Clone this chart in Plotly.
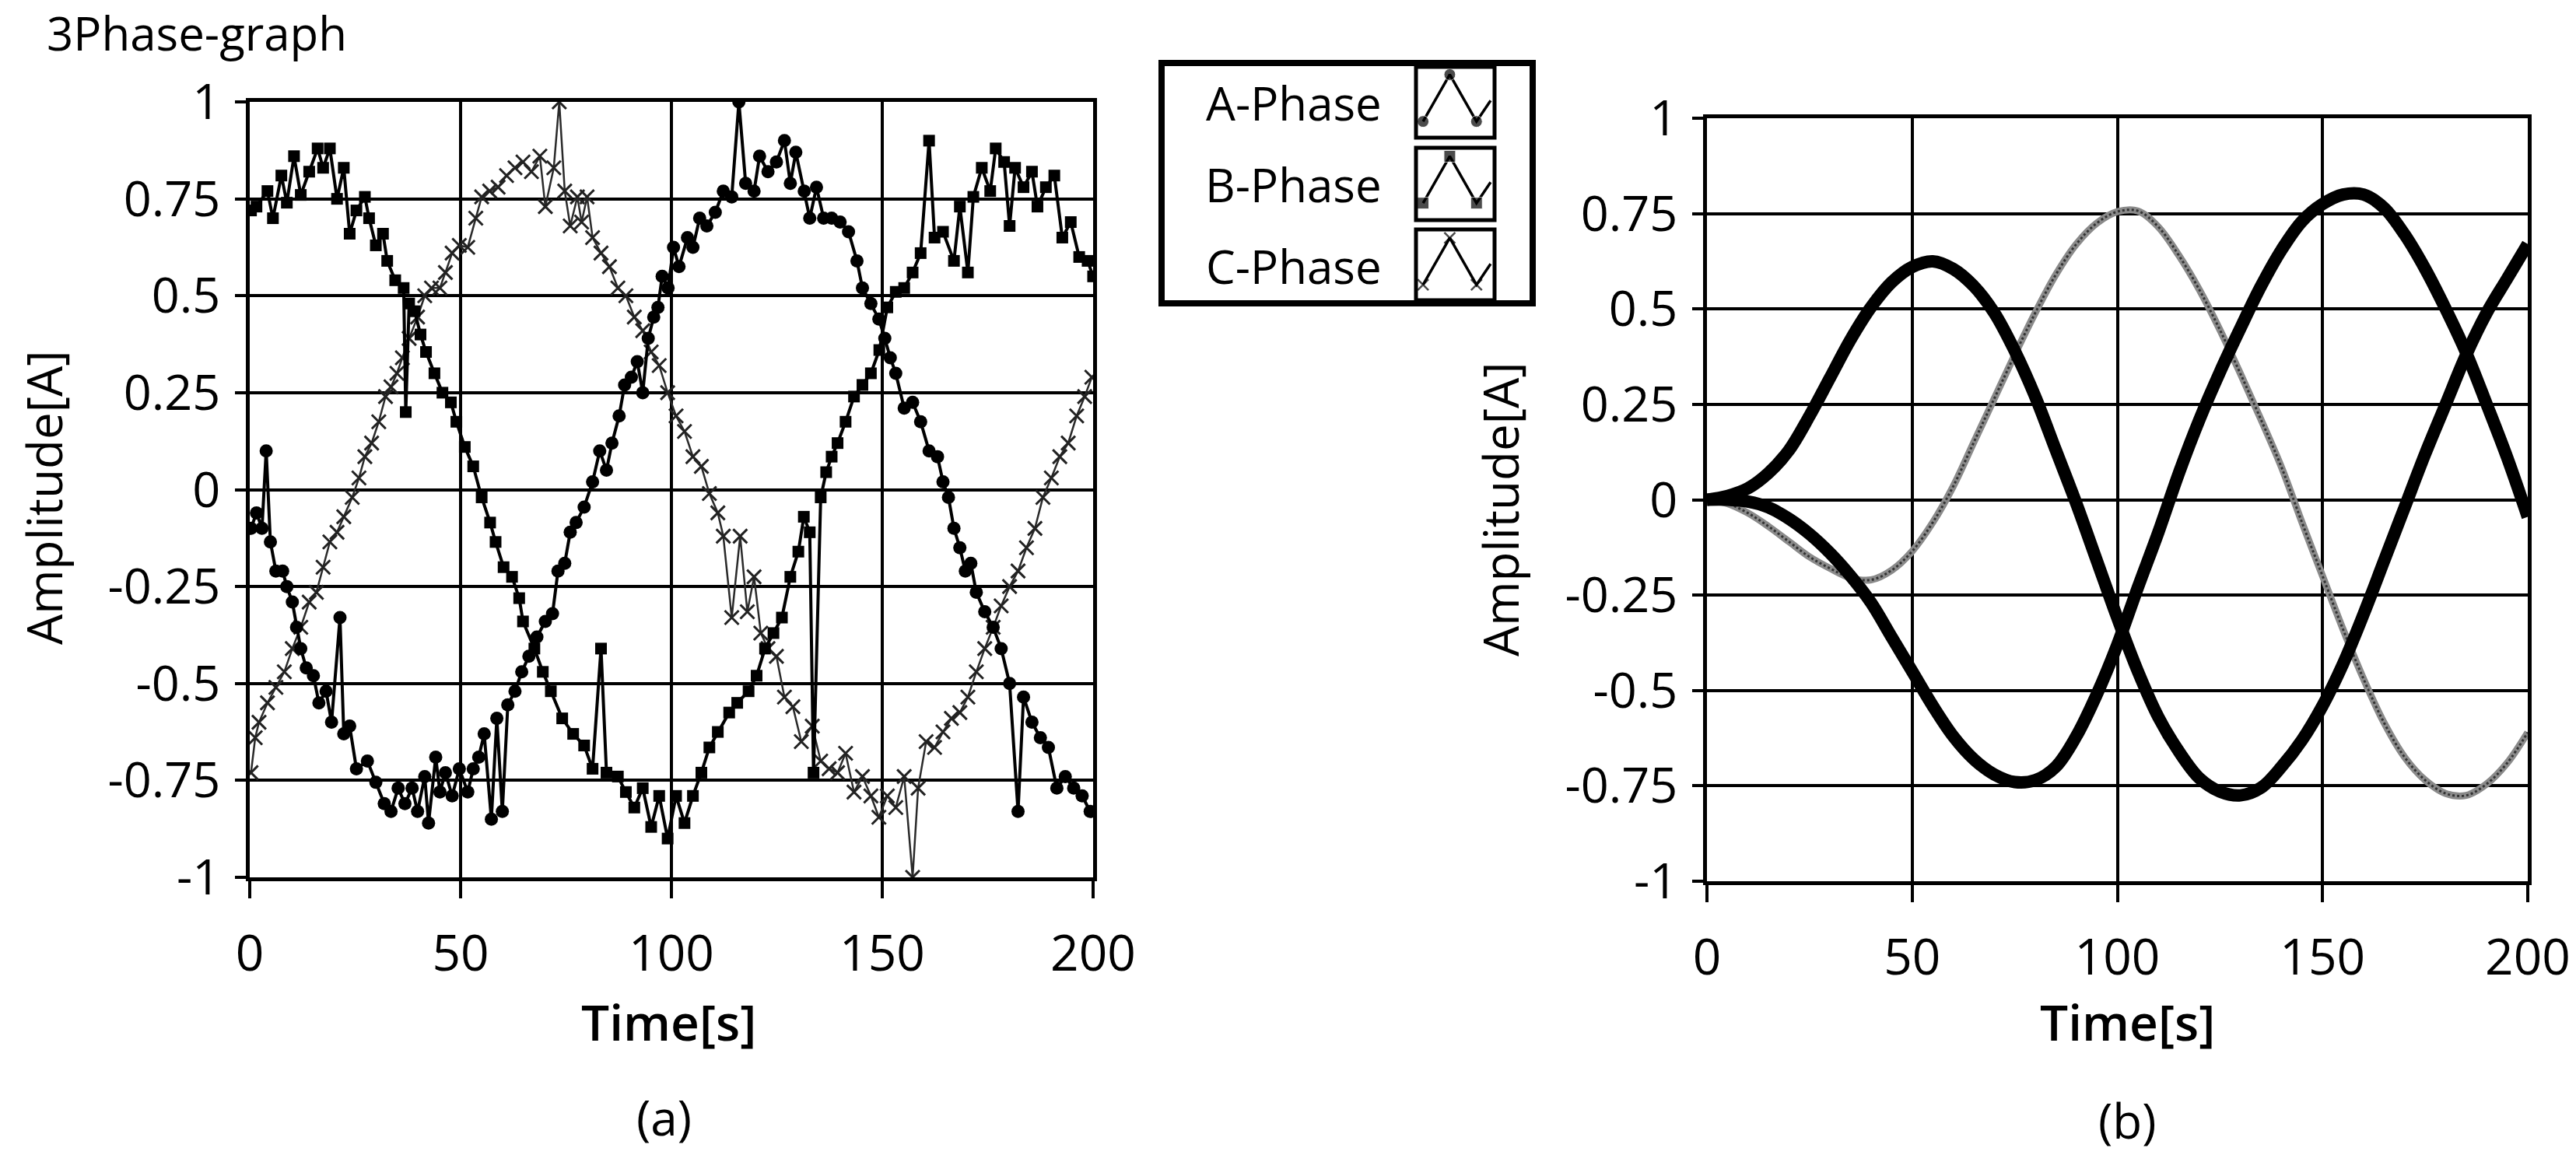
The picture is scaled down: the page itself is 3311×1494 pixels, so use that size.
import plotly.graph_objects as go

W, H = 3311, 1494
FONT = "Open Sans"

# ---------------- (a) measured, noisy 3-phase currents ----------------
A_T = [0.3, 1.6, 2.9, 3.9, 4.9, 6.2, 7.8, 8.8, 10.1, 11.1, 12.1, 13.4, 15.1, 16.4, 18.1, 19.4, 21.4, 22.3,
       23.7, 25.3, 27.9, 29.9, 31.9, 33.5, 35.2, 36.8, 38.5, 39.8, 41.5, 42.4, 44.1, 45.1, 46.4, 48.0, 49.7,
       51.7, 53.0, 54.3, 55.6, 57.3, 58.6, 59.9, 61.2, 62.9, 64.5, 66.2, 68.1, 70.1, 71.8, 73.1, 74.7, 76.0,
       77.4, 79.3, 81.3, 83.0, 84.6, 85.9, 87.6, 88.9, 90.5, 91.9, 93.2, 94.5, 95.8, 96.8, 97.8, 99.2, 100.5,
       101.8, 103.8, 105.1, 106.7, 108.4, 110.4, 112.3, 114.3, 116.0, 117.6, 119.6, 120.9, 122.9, 124.9, 126.8,
       128.2, 129.5, 131.5, 132.8, 134.4, 136.1, 138.0, 140.0, 142.0, 144.0, 145.3, 147.3, 149.2, 150.6, 151.9,
       153.2, 155.2, 157.2, 159.1, 161.1, 163.1, 164.4, 165.7, 167.0, 168.4, 169.7, 171.0, 172.3, 174.3, 176.3,
       178.2, 180.2, 182.2, 183.5, 185.5, 187.5, 189.4, 191.4, 193.4, 195.4, 197.4, 199.3]
A_V = [-0.10, -0.06, -0.10, 0.10, -0.135, -0.21, -0.21, -0.25, -0.29, -0.355, -0.41, -0.46, -0.48, -0.55, -0.52,
       -0.60, -0.33, -0.63, -0.61, -0.72, -0.70, -0.755, -0.81, -0.83, -0.77, -0.81, -0.77, -0.83, -0.74, -0.86,
       -0.69, -0.78, -0.73, -0.79, -0.72, -0.78, -0.72, -0.69, -0.63, -0.85, -0.59, -0.83, -0.555, -0.52, -0.47,
       -0.43, -0.38, -0.34, -0.32, -0.21, -0.19, -0.11, -0.085, -0.045, 0.02, 0.10, 0.05, 0.12, 0.19, 0.27, 0.29,
       0.33, 0.25, 0.39, 0.445, 0.47, 0.55, 0.52, 0.625, 0.575, 0.65, 0.625, 0.70, 0.68, 0.715, 0.77, 0.755, 1.0,
       0.79, 0.77, 0.86, 0.82, 0.845, 0.90, 0.79, 0.87, 0.77, 0.70, 0.78, 0.70, 0.70, 0.69, 0.665, 0.59, 0.52,
       0.48, 0.44, 0.39, 0.34, 0.30, 0.21, 0.225, 0.175, 0.10, 0.085, 0.02, -0.02, -0.10, -0.15, -0.21, -0.19,
       -0.265, -0.315, -0.355, -0.41, -0.50, -0.83, -0.535, -0.60, -0.64, -0.665, -0.77, -0.74, -0.77, -0.79, -0.83]

B_T = [0.3, 1.6, 4.2, 5.5, 7.5, 8.8, 10.5, 12.1, 14.1, 16.1, 17.4, 19.0, 20.7, 22.3, 23.7, 25.3, 27.3, 28.3,
       29.9, 31.6, 32.6, 34.5, 36.5, 37.0, 37.8, 39.1, 40.5, 41.8, 43.8, 45.7, 47.7, 49.0, 51.0, 53.0, 55.0,
       57.0, 58.3, 60.2, 62.2, 63.9, 64.8, 67.5, 69.5, 71.4, 74.1, 76.7, 79.3, 81.3, 83.3, 84.6, 87.3, 89.2,
       91.2, 93.2, 95.2, 97.1, 99.1, 101.1, 103.1, 105.1, 107.1, 109.0, 111.0, 113.7, 115.6, 118.3, 120.2,
       122.2, 124.2, 126.2, 128.2, 130.1, 131.4, 132.8, 133.7, 135.4, 136.7, 138.0, 139.4, 141.3, 143.3, 145.3,
       147.3, 149.3, 151.2, 153.2, 155.2, 157.2, 159.1, 161.1, 162.4, 164.4, 167.0, 168.4, 170.3, 171.6, 173.6,
       175.6, 176.9, 178.9, 180.2, 181.5, 183.5, 185.5, 186.8, 188.8, 190.8, 192.7, 194.7, 196.7, 198.7, 200.0]
B_V = [0.72, 0.73, 0.77, 0.70, 0.81, 0.74, 0.86, 0.76, 0.82, 0.88, 0.83, 0.88, 0.75, 0.83, 0.66, 0.72, 0.755,
       0.70, 0.63, 0.66, 0.59, 0.54, 0.52, 0.20, 0.48, 0.46, 0.40, 0.355, 0.30, 0.25, 0.225, 0.175, 0.11, 0.06,
       -0.02, -0.085, -0.135, -0.20, -0.225, -0.28, -0.34, -0.41, -0.47, -0.52, -0.59, -0.63, -0.66, -0.72,
       -0.41, -0.73, -0.74, -0.78, -0.82, -0.77, -0.87, -0.79, -0.90, -0.79, -0.86, -0.79, -0.73, -0.665,
       -0.625, -0.575, -0.55, -0.52, -0.48, -0.41, -0.37, -0.33, -0.225, -0.16, -0.07, -0.11, -0.73, -0.02,
       0.045, 0.085, 0.12, 0.175, 0.24, 0.27, 0.30, 0.36, 0.47, 0.51, 0.52, 0.56, 0.61, 0.90, 0.65, 0.665,
       0.59, 0.73, 0.56, 0.755, 0.83, 0.77, 0.88, 0.845, 0.68, 0.83, 0.78, 0.82, 0.73, 0.78, 0.81, 0.65, 0.69,
       0.60, 0.59, 0.55]

C_T = [0.3, 1.3, 2.2, 4.2, 6.2, 8.2, 10.1, 12.1, 14.1, 15.8, 17.4, 19.0, 20.7, 22.3, 24.3, 25.9, 27.3, 28.9,
       30.6, 32.2, 33.5, 34.9, 36.2, 37.8, 39.8, 41.5, 43.1, 45.1, 46.4, 48.0, 49.7, 51.7, 53.6, 55.0, 56.9,
       58.9, 60.9, 62.9, 64.8, 66.8, 68.8, 70.1, 72.1, 73.4, 74.7, 76.0, 77.7, 78.7, 80.0, 81.3, 83.3, 85.3,
       87.3, 89.2, 91.2, 93.2, 95.2, 97.1, 99.1, 101.1, 103.1, 105.1, 107.1, 109.0, 111.0, 112.3, 114.3, 116.3,
       118.0, 119.6, 121.2, 122.9, 124.9, 126.8, 128.8, 130.8, 133.4, 135.4, 137.4, 139.4, 141.3, 143.3, 145.3,
       147.3, 149.2, 151.2, 153.2, 155.2, 157.2, 158.5, 160.4, 162.4, 164.4, 166.4, 168.4, 170.3, 172.3, 174.3,
       176.3, 178.2, 180.2, 182.2, 184.2, 186.2, 188.1, 190.1, 192.1, 194.1, 196.1, 198.0, 199.7]
C_V = [-0.73, -0.64, -0.60, -0.55, -0.51, -0.47, -0.41, -0.355, -0.29, -0.265, -0.20, -0.135, -0.11, -0.07,
       -0.02, 0.03, 0.085, 0.12, 0.175, 0.24, 0.265, 0.30, 0.34, 0.39, 0.445, 0.50, 0.52, 0.52, 0.56, 0.61,
       0.63, 0.625, 0.70, 0.755, 0.77, 0.78, 0.81, 0.83, 0.845, 0.82, 0.86, 0.73, 0.83, 1.0, 0.77, 0.68, 0.755,
       0.69, 0.755, 0.65, 0.61, 0.575, 0.52, 0.50, 0.445, 0.41, 0.355, 0.32, 0.25, 0.19, 0.15, 0.085, 0.06,
       -0.01, -0.06, -0.12, -0.33, -0.12, -0.315, -0.225, -0.37, -0.41, -0.43, -0.535, -0.56, -0.65, -0.61,
       -0.70, -0.72, -0.73, -0.68, -0.78, -0.74, -0.79, -0.845, -0.79, -0.82, -0.74, -1.0, -0.77, -0.65, -0.665,
       -0.625, -0.59, -0.575, -0.535, -0.47, -0.41, -0.355, -0.30, -0.25, -0.21, -0.15, -0.10, -0.02, 0.03,
       0.085, 0.12, 0.19, 0.24, 0.29]

# ---------------- (b) filtered / smooth 3-phase currents ----------------
R_T = [0, 5, 10, 15, 20, 25, 30, 35, 40, 45, 50, 55, 60, 65, 70, 75, 80, 85, 90, 95, 100,
       105, 110, 115, 120, 125, 130, 135, 140, 145, 150, 155, 160, 165, 170, 175, 180, 185, 190, 195, 200]
RA_V = [0, 0.01, 0.03, 0.07, 0.13, 0.22, 0.32, 0.42, 0.505, 0.57, 0.61, 0.625, 0.605, 0.56, 0.49, 0.39, 0.27,
        0.13, -0.01, -0.16, -0.31, -0.45, -0.57, -0.66, -0.73, -0.765, -0.775, -0.755, -0.70, -0.63, -0.54,
        -0.43, -0.30, -0.16, -0.02, 0.12, 0.25, 0.38, 0.49, 0.58, 0.67]
RB_V = [0, 0, -0.005, -0.02, -0.05, -0.09, -0.14, -0.20, -0.27, -0.36, -0.45, -0.54, -0.62, -0.68, -0.72,
        -0.74, -0.735, -0.70, -0.62, -0.51, -0.38, -0.23, -0.085, 0.07, 0.21, 0.335, 0.45, 0.56, 0.655, 0.73,
        0.775, 0.80, 0.80, 0.765, 0.695, 0.605, 0.50, 0.385, 0.25, 0.11, -0.045]
RC_V = [0, -0.01, -0.035, -0.07, -0.11, -0.15, -0.18, -0.205, -0.21, -0.185, -0.135, -0.06, 0.035, 0.15, 0.265,
        0.38, 0.49, 0.59, 0.67, 0.725, 0.755, 0.757, 0.715, 0.64, 0.55, 0.445, 0.33, 0.21, 0.085, -0.06, -0.20,
        -0.34, -0.47, -0.585, -0.675, -0.735, -0.77, -0.775, -0.745, -0.69, -0.61]

X_TICKS = [0, 50, 100, 150, 200]
Y_TICKS = [-1, -0.75, -0.5, -0.25, 0, 0.25, 0.5, 0.75, 1]
Y_LABELS = ["-1", "-0.75", "-0.5", "-0.25", "0", "0.25", "0.5", "0.75", "1"]
SERIES_NAMES = ["A-Phase", "B-Phase", "C-Phase"]

# legend glyph (zig-zag) in unit box
ICON_X = [0.09, 0.43, 0.77, 0.95]
ICON_Y = [0.22, 0.89, 0.22, 0.52]


def px(x):
    return x / W


def py(y):
    return 1 - y / H


fig = go.Figure()

# --- left panel
fig.add_trace(go.Scatter(x=C_T, y=C_V, mode="lines+markers", name=SERIES_NAMES[2],
                         line=dict(color="#2a2a2a", width=2.5),
                         marker=dict(symbol="x-thin", size=18, line=dict(width=3, color="#222")),
                         xaxis="x", yaxis="y"))
fig.add_trace(go.Scatter(x=A_T, y=A_V, mode="lines+markers", name=SERIES_NAMES[0],
                         line=dict(color="black", width=4),
                         marker=dict(symbol="circle", size=17, color="black"),
                         xaxis="x", yaxis="y"))
fig.add_trace(go.Scatter(x=B_T, y=B_V, mode="lines+markers", name=SERIES_NAMES[1],
                         line=dict(color="black", width=4),
                         marker=dict(symbol="square", size=15, color="black"),
                         xaxis="x", yaxis="y"))

# --- right panel
fig.add_trace(go.Scatter(x=R_T, y=RC_V, mode="lines", name=SERIES_NAMES[2],
                         line=dict(color="#8a8a8a", width=9, shape="spline"),
                         xaxis="x2", yaxis="y2"))
fig.add_trace(go.Scatter(x=R_T, y=RC_V, mode="lines", name=SERIES_NAMES[2],
                         line=dict(color="#333", width=3, shape="spline", dash="dot"),
                         xaxis="x2", yaxis="y2"))
fig.add_trace(go.Scatter(x=R_T, y=RA_V, mode="lines", name=SERIES_NAMES[0],
                         line=dict(color="black", width=16, shape="spline"),
                         xaxis="x2", yaxis="y2"))
fig.add_trace(go.Scatter(x=R_T, y=RB_V, mode="lines", name=SERIES_NAMES[1],
                         line=dict(color="black", width=16, shape="spline"),
                         xaxis="x2", yaxis="y2"))

# --- legend glyphs (own small axis covering the glyph column)
ROW_OFFSET = [210, 105, 0]   # px from bottom of glyph column, rows A, B, C
ROW_H = 90
GLYPH_SYMBOLS = ["circle", "square", "x-thin"]
for i in range(3):
    gy = [ROW_OFFSET[i] + v * ROW_H for v in ICON_Y]
    mk = dict(symbol=GLYPH_SYMBOLS[i], size=[15, 15, 15, 0], color="black")
    if GLYPH_SYMBOLS[i] == "x-thin":
        mk = dict(symbol="x-thin", size=[14, 14, 14, 0], line=dict(width=2.5, color="black"))
    fig.add_trace(go.Scatter(x=ICON_X, y=gy, mode="lines+markers",
                             line=dict(color="black", width=3.5), marker=mk,
                             xaxis="x3", yaxis="y3", hoverinfo="skip"))

axis_common = dict(showgrid=True, gridcolor="black", gridwidth=4, showline=True, linecolor="black",
                   linewidth=5, mirror=True, ticks="outside", tickcolor="black", tickwidth=4,
                   zeroline=False, automargin=False)

xa = dict(axis_common, range=[0, 200], tickvals=X_TICKS, ticklen=22, ticklabelstandoff=16,
          tickfont=dict(family=FONT, size=64, color="black"))
ya = dict(axis_common, range=[-1, 1], tickvals=Y_TICKS, ticktext=Y_LABELS, ticklen=14,
          ticklabelstandoff=6, tickfont=dict(family=FONT, size=63, color="black"))

fig.update_layout(
    width=W, height=H, autosize=False,
    margin=dict(l=0, r=0, t=0, b=0, pad=0, autoexpand=False),
    paper_bgcolor="white", plot_bgcolor="white",
    showlegend=False,
    xaxis=dict(xa, domain=[px(321), px(1405)], anchor="y"),
    yaxis=dict(ya, domain=[py(1128), py(131)], anchor="x"),
    xaxis2=dict(xa, domain=[px(2194), px(3249)], anchor="y2"),
    yaxis2=dict(ya, domain=[py(1133), py(152)], anchor="x2"),
    xaxis3=dict(domain=[px(1820), px(1921)], range=[0, 1], visible=False, anchor="y3", fixedrange=True),
    yaxis3=dict(domain=[py(386), py(86)], range=[0, 300], visible=False, anchor="x3", fixedrange=True),
)

# legend frame + glyph boxes
shapes = [dict(type="rect", xref="paper", yref="paper", x0=px(1493), x1=px(1970), y0=py(390), y1=py(81),
               line=dict(color="black", width=8), fillcolor="rgba(0,0,0,0)")]
BOX_ROWS = [(86, 177), (190, 283), (295, 386)]
for (top, bot) in BOX_ROWS:
    shapes.append(dict(type="rect", xref="paper", yref="paper", x0=px(1820), x1=px(1921),
                       y0=py(bot), y1=py(top), line=dict(color="black", width=5)))
fig.update_layout(shapes=shapes)

ann = []
ann.append(dict(text="3Phase-graph", x=px(58), y=py(42), xanchor="left", yanchor="middle",
                font=dict(family=FONT, size=60, color="black")))
for name, yc in zip(SERIES_NAMES, [132, 237, 342]):
    ann.append(dict(text=name, x=px(1778), y=py(yc), xanchor="right", yanchor="middle",
                    font=dict(family=FONT, size=60, color="black")))
ann.append(dict(text="Amplitude[A]", x=px(56), y=py(640), textangle=-90, xanchor="center", yanchor="middle",
                font=dict(family=FONT, size=62, color="black")))
ann.append(dict(text="Amplitude[A]", x=px(1928), y=py(655), textangle=-90, xanchor="center", yanchor="middle",
                font=dict(family=FONT, size=62, color="black")))
for xc in (859, 2734):
    ann.append(dict(text="Time[s]", x=px(xc), y=py(1313), xanchor="center", yanchor="middle",
                    font=dict(family=FONT, size=64, color="black", weight=600)))
ann.append(dict(text="(a)", x=px(853), y=py(1436), xanchor="center", yanchor="middle",
                font=dict(family=FONT, size=62, color="black")))
ann.append(dict(text="(b)", x=px(2734), y=py(1440), xanchor="center", yanchor="middle",
                font=dict(family=FONT, size=62, color="black")))
for a in ann:
    a.update(xref="paper", yref="paper", showarrow=False)
fig.update_layout(annotations=ann)

fig.write_html("out.html", config={"displayModeBar": False},
               post_script="document.body.style.margin='0px';")
